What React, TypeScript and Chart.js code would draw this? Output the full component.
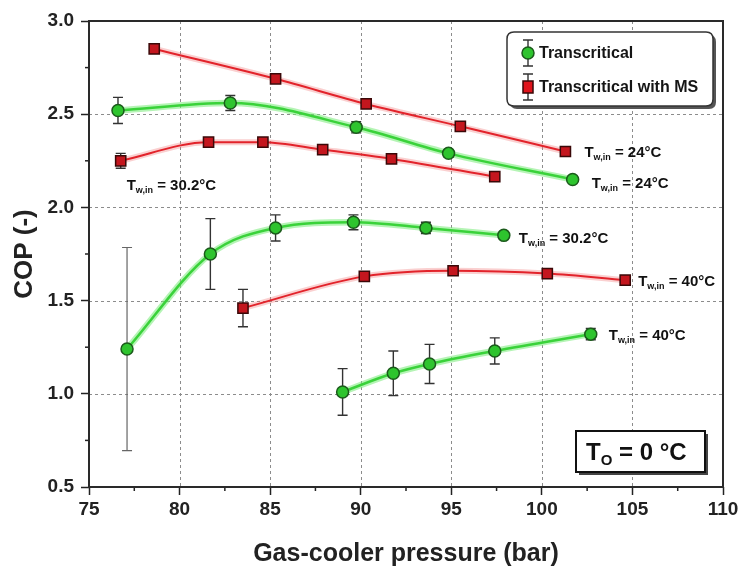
import React, { useEffect, useRef } from 'react';
import { Chart, registerables } from 'chart.js';

Chart.register(...registerables);

// ---------- data ----------
const xTicks = [75, 80, 85, 90, 95, 100, 105, 110];
const yTicks = [0.5, 1.0, 1.5, 2.0, 2.5, 3.0];
const xMinorTicks = [77.5, 82.5, 87.5, 92.5, 97.5, 102.5, 107.5];
const yMinorTicks = [0.75, 1.25, 1.75, 2.25, 2.75];

const seriesNames = ['Transcritical', 'Transcritical with MS'];
const waterTemps = ['24', '30.2', '40'];

// Transcritical (green)
const pTC24 = [76.6, 82.8, 89.75, 94.85, 101.7];
const copTC24 = [2.52, 2.56, 2.43, 2.29, 2.15];
const errTC24 = [0.07, 0.04, 0.03, 0.02, 0.015];

const pTC30 = [77.1, 81.7, 85.3, 89.6, 93.6, 97.9];
const copTC30 = [1.24, 1.75, 1.89, 1.92, 1.89, 1.85];
const errTC30 = [0.545, 0.19, 0.07, 0.04, 0.03, 0.02];

const pTC40 = [89.0, 91.8, 93.8, 97.4, 102.7];
const copTC40 = [1.01, 1.11, 1.16, 1.23, 1.32];
const errTC40 = [0.125, 0.12, 0.105, 0.07, 0.03];

// Transcritical with MS (red)
const pMS24 = [78.6, 85.3, 90.3, 95.5, 101.3];
const copMS24 = [2.85, 2.69, 2.555, 2.435, 2.30];
const errMS24 = [0.01, 0.01, 0.01, 0.01, 0.01];

const pMS30 = [76.75, 81.6, 84.6, 87.9, 91.7, 97.4];
const copMS30 = [2.25, 2.35, 2.35, 2.31, 2.26, 2.165];
const errMS30 = [0.04, 0.015, 0.02, 0.01, 0.01, 0.01];

const pMS40 = [83.5, 90.2, 95.1, 100.3, 104.6];
const copMS40 = [1.46, 1.63, 1.66, 1.645, 1.61];
const errMS40 = [0.1, 0.025, 0.02, 0.015, 0.01];

// ---------- styles ----------
const FONT = "'Liberation Sans', Arial, Helvetica, sans-serif";
const GREEN_LINE = '#3ad23a';
const GREEN_FILL = '#2ec42e';
const GREEN_EDGE = '#1b5a1b';
const RED_LINE = '#e2232b';
const RED_FILL = '#c4161e';
const RED_EDGE = '#3a0808';

// label placement relative to an end point of each series (pixels)
const labelPlacement = [
  { anchor: 'last', dx: 19, dy: 3 },  // TC24
  { anchor: 'last', dx: 15, dy: 2 },  // TC30
  { anchor: 'last', dx: 18, dy: 0 },  // TC40
  { anchor: 'last', dx: 19, dy: 0 },  // MS24
  { anchor: 'first', dx: 6, dy: 24 }, // MS30
  { anchor: 'last', dx: 13, dy: 0 },  // MS40
];

function pts(xs: number[], ys: number[]) {
  return xs.map((x, i) => ({ x, y: ys[i] }));
}

function greenSet(label: string, xs: number[], ys: number[], errs: number[], temp: string) {
  return {
    label,
    data: pts(xs, ys),
    errors: errs,
    temp,
    glow: 'rgba(120,235,120,0.55)',
    showLine: true,
    borderColor: GREEN_LINE,
    borderWidth: 2.5,
    cubicInterpolationMode: 'monotone',
    pointStyle: 'circle',
    pointRadius: 6,
    pointBackgroundColor: GREEN_FILL,
    pointBorderColor: GREEN_EDGE,
    pointBorderWidth: 1.5,
  };
}

function redSet(label: string, xs: number[], ys: number[], errs: number[], temp: string) {
  return {
    label,
    data: pts(xs, ys),
    errors: errs,
    temp,
    glow: 'rgba(240,120,120,0.35)',
    showLine: true,
    borderColor: RED_LINE,
    borderWidth: 2,
    cubicInterpolationMode: 'monotone',
    pointStyle: 'rect',
    pointRadius: 7.2,
    pointBackgroundColor: RED_FILL,
    pointBorderColor: RED_EDGE,
    pointBorderWidth: 1.5,
  };
}

function drawTLabel(ctx: CanvasRenderingContext2D, x: number, y: number, temp: string) {
  ctx.save();
  ctx.fillStyle = '#111';
  ctx.textAlign = 'left';
  ctx.textBaseline = 'alphabetic';
  const base = y + 5.5;
  ctx.font = `bold 15px ${FONT}`;
  ctx.fillText('T', x, base);
  let w = ctx.measureText('T').width;
  ctx.font = `bold 9px ${FONT}`;
  ctx.fillText('w,in', x + w, base + 3);
  w += ctx.measureText('w,in').width;
  ctx.font = `bold 15px ${FONT}`;
  ctx.fillText(` = ${temp}°C`, x + w, base);
  ctx.restore();
}

function roundRect(ctx: CanvasRenderingContext2D, x: number, y: number, w: number, h: number, r: number) {
  ctx.beginPath();
  ctx.moveTo(x + r, y);
  ctx.lineTo(x + w - r, y);
  ctx.quadraticCurveTo(x + w, y, x + w, y + r);
  ctx.lineTo(x + w, y + h - r);
  ctx.quadraticCurveTo(x + w, y + h, x + w - r, y + h);
  ctx.lineTo(x + r, y + h);
  ctx.quadraticCurveTo(x, y + h, x, y + h - r);
  ctx.lineTo(x, y + r);
  ctx.quadraticCurveTo(x, y, x + r, y);
  ctx.closePath();
}

function drawErrorBar(ctx: CanvasRenderingContext2D, x: number, yTop: number, yBot: number, cap: number) {
  ctx.beginPath();
  ctx.moveTo(x, yTop);
  ctx.lineTo(x, yBot);
  ctx.moveTo(x - cap, yTop);
  ctx.lineTo(x + cap, yTop);
  ctx.moveTo(x - cap, yBot);
  ctx.lineTo(x + cap, yBot);
  ctx.stroke();
}

const decorPlugin = {
  id: 'decor',
  beforeDraw(chart: any) {
    const { ctx } = chart;
    ctx.save();
    ctx.fillStyle = '#fff';
    ctx.fillRect(0, 0, chart.width, chart.height);
    ctx.restore();
  },
  beforeDatasetsDraw(chart: any) {
    const { ctx, chartArea: a, scales } = chart;
    const xs = scales.x;
    const ys = scales.y;
    ctx.save();
    // dashed grid
    ctx.strokeStyle = '#8c8c8c';
    ctx.lineWidth = 1;
    ctx.setLineDash([3, 3]);
    xTicks.forEach((v) => {
      const px = Math.round(xs.getPixelForValue(v)) + 0.5;
      ctx.beginPath();
      ctx.moveTo(px, a.top);
      ctx.lineTo(px, a.bottom);
      ctx.stroke();
    });
    yTicks.forEach((v) => {
      const py = Math.round(ys.getPixelForValue(v)) + 0.5;
      ctx.beginPath();
      ctx.moveTo(a.left, py);
      ctx.lineTo(a.right, py);
      ctx.stroke();
    });
    ctx.setLineDash([]);
    // minor ticks
    ctx.strokeStyle = '#222';
    ctx.lineWidth = 1.5;
    xMinorTicks.forEach((v) => {
      const px = xs.getPixelForValue(v);
      ctx.beginPath();
      ctx.moveTo(px, a.bottom);
      ctx.lineTo(px, a.bottom + 4);
      ctx.stroke();
    });
    yMinorTicks.forEach((v) => {
      const py = ys.getPixelForValue(v);
      ctx.beginPath();
      ctx.moveTo(a.left, py);
      ctx.lineTo(a.left - 4, py);
      ctx.stroke();
    });
    // soft halo under the curves
    chart.data.datasets.forEach((ds: any, i: number) => {
      const meta = chart.getDatasetMeta(i);
      const line = meta.dataset;
      if (!line) return;
      ctx.save();
      const prevColor = line.options.borderColor;
      const prevWidth = line.options.borderWidth;
      line.options.borderColor = ds.glow;
      line.options.borderWidth = prevWidth + 4;
      line.draw(ctx, a);
      line.options.borderColor = prevColor;
      line.options.borderWidth = prevWidth;
      ctx.restore();
    });
    // error bars
    chart.data.datasets.forEach((ds: any) => {
      ds.data.forEach((p: any, j: number) => {
        const e = ds.errors[j];
        const px = xs.getPixelForValue(p.x);
        const top = ys.getPixelForValue(p.y + e);
        const bot = ys.getPixelForValue(p.y - e);
        ctx.strokeStyle = e > 0.3 ? '#666' : '#333';
        ctx.lineWidth = e > 0.3 ? 1.2 : 1.4;
        drawErrorBar(ctx, px, top, bot, 5);
      });
    });
    ctx.restore();
  },
  afterDatasetsDraw(chart: any) {
    const { ctx, chartArea: a, scales } = chart;
    const xs = scales.x;
    const ys = scales.y;
    ctx.save();
    // frame
    ctx.strokeStyle = '#2a2a2a';
    ctx.lineWidth = 2;
    ctx.strokeRect(a.left, a.top, a.right - a.left, a.bottom - a.top);

    // temperature labels
    chart.data.datasets.forEach((ds: any, i: number) => {
      const pl = labelPlacement[i];
      const p = pl.anchor === 'first' ? ds.data[0] : ds.data[ds.data.length - 1];
      drawTLabel(ctx, xs.getPixelForValue(p.x) + pl.dx, ys.getPixelForValue(p.y) + pl.dy, ds.temp);
    });

    // legend box
    const lx = a.right - 216;
    const ly = a.top + 11;
    const lw = 206;
    const lh = 74;
    ctx.fillStyle = '#555';
    roundRect(ctx, lx + 3, ly + 3, lw, lh, 7);
    ctx.fill();
    ctx.fillStyle = '#fff';
    roundRect(ctx, lx, ly, lw, lh, 7);
    ctx.fill();
    ctx.strokeStyle = '#333';
    ctx.lineWidth = 1.5;
    ctx.stroke();

    const mx = lx + 21;
    const rows = [ly + 21, ly + 55];
    ctx.strokeStyle = '#333';
    ctx.lineWidth = 1.4;
    rows.forEach((ry) => drawErrorBar(ctx, mx, ry - 13, ry + 13, 5));
    // green circle
    ctx.beginPath();
    ctx.arc(mx, rows[0], 6, 0, Math.PI * 2);
    ctx.fillStyle = GREEN_FILL;
    ctx.fill();
    ctx.strokeStyle = GREEN_EDGE;
    ctx.lineWidth = 1.5;
    ctx.stroke();
    // red square
    ctx.fillStyle = '#e0141c';
    ctx.fillRect(mx - 5, rows[1] - 6, 10, 12);
    ctx.strokeStyle = RED_EDGE;
    ctx.strokeRect(mx - 5, rows[1] - 6, 10, 12);

    ctx.fillStyle = '#151515';
    ctx.font = `bold 16px ${FONT}`;
    ctx.textAlign = 'left';
    ctx.textBaseline = 'middle';
    ctx.fillText(seriesNames[0], lx + 32, rows[0] + 1);
    ctx.fillText(seriesNames[1], lx + 32, rows[1] + 1);

    // T_O box
    const bx = a.right - 147;
    const by = a.bottom - 56;
    const bw = 129;
    const bh = 41;
    ctx.fillStyle = '#444';
    ctx.fillRect(bx + 3, by + 3, bw, bh);
    ctx.fillStyle = '#fff';
    ctx.fillRect(bx, by, bw, bh);
    ctx.strokeStyle = '#111';
    ctx.lineWidth = 2;
    ctx.strokeRect(bx, by, bw, bh);
    ctx.fillStyle = '#111';
    ctx.textBaseline = 'alphabetic';
    const base = by + 29;
    let tx = bx + 10;
    ctx.font = `bold 24px ${FONT}`;
    ctx.fillText('T', tx, base);
    tx += ctx.measureText('T').width;
    ctx.font = `bold 15px ${FONT}`;
    ctx.fillText('O', tx, base + 5);
    tx += ctx.measureText('O').width;
    ctx.font = `bold 24px ${FONT}`;
    ctx.fillText(' = 0 °C', tx, base);
    ctx.restore();
  },
};

export default function App() {
  const ref = useRef<HTMLCanvasElement>(null);
  useEffect(() => {
    document.body.style.margin = '0';
    const chart = new Chart(ref.current as HTMLCanvasElement, {
      type: 'scatter',
      data: {
        datasets: [
          greenSet(seriesNames[0], pTC24, copTC24, errTC24, waterTemps[0]),
          greenSet(seriesNames[0], pTC30, copTC30, errTC30, waterTemps[1]),
          greenSet(seriesNames[0], pTC40, copTC40, errTC40, waterTemps[2]),
          redSet(seriesNames[1], pMS24, copMS24, errMS24, waterTemps[0]),
          redSet(seriesNames[1], pMS30, copMS30, errMS30, waterTemps[1]),
          redSet(seriesNames[1], pMS40, copMS40, errMS40, waterTemps[2]),
        ] as any,
      },
      options: {
        animation: false,
        responsive: false,
        devicePixelRatio: 1,
        layout: { padding: { top: 21, right: 21, left: 0, bottom: 0 } },
        plugins: { legend: { display: false }, tooltip: { enabled: false } },
        scales: {
          x: {
            type: 'linear',
            min: 75,
            max: 110,
            afterBuildTicks: (s: any) => {
              s.ticks = xTicks.map((v) => ({ value: v }));
            },
            afterFit: (s: any) => {
              s.height = 82;
            },
            ticks: {
              font: { family: FONT, size: 19, weight: 'bold' },
              color: '#222',
              padding: 3,
              maxRotation: 0,
              autoSkip: false,
              callback: (v: any) => String(v),
            },
            grid: { display: true, drawOnChartArea: false, drawTicks: true, tickLength: 8, tickColor: '#222', tickWidth: 1.5 },
            border: { display: false },
            title: {
              display: true,
              text: 'Gas-cooler pressure (bar)',
              font: { family: FONT, size: 25, weight: 'bold' },
              color: '#222',
              padding: { top: 0, bottom: 0 },
            },
          },
          y: {
            type: 'linear',
            min: 0.5,
            max: 3.0,
            afterBuildTicks: (s: any) => {
              s.ticks = yTicks.map((v) => ({ value: v }));
            },
            afterFit: (s: any) => {
              s.width = 89;
            },
            ticks: {
              font: { family: FONT, size: 19, weight: 'bold' },
              color: '#222',
              padding: 7,
              autoSkip: false,
              callback: (v: any) => Number(v).toFixed(1),
            },
            grid: { display: true, drawOnChartArea: false, drawTicks: true, tickLength: 8, tickColor: '#222', tickWidth: 1.5 },
            border: { display: false },
            title: {
              display: true,
              text: 'COP (-)',
              font: { family: FONT, size: 26, weight: 'bold' },
              color: '#222',
              padding: { top: 9, bottom: 0 },
            },
          },
        },
      } as any,
      plugins: [decorPlugin as any],
    });
    return () => chart.destroy();
  }, []);
  return (
    <div style={{ position: 'absolute', left: 0, top: 0, width: 744, height: 569, background: '#fff' }}>
      <canvas ref={ref} width={744} height={569} style={{ display: 'block', width: 744, height: 569 }} />
    </div>
  );
}
